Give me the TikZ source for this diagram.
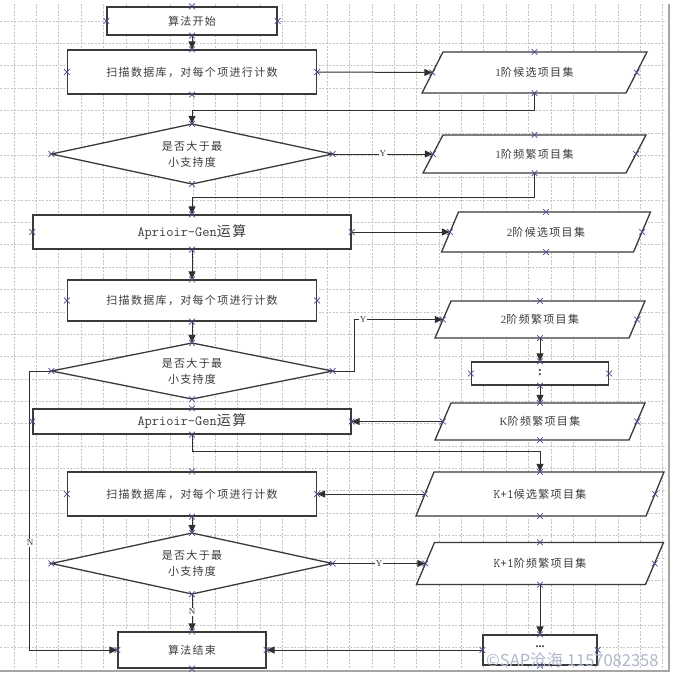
\documentclass[tikz,border=0pt]{standalone}
\usepackage{fontspec}
\setmainfont{Liberation Serif}
\newfontfamily\cjk[LetterSpace=12]{Noto Sans CJK SC}
\newfontfamily\cjkw{Noto Sans CJK SC}
\usetikzlibrary{arrows.meta,shapes.misc,calc}
\definecolor{boxc}{HTML}{3A3A3A}
\definecolor{linec}{HTML}{303030}
\definecolor{markc}{HTML}{4B4B8F}
\definecolor{gridc}{HTML}{C4C4C4}
\definecolor{txtc}{HTML}{3C3C3C}
\definecolor{wmc}{HTML}{AEB8CA}
\newcommand{\latn}[1]{{\rmfamily #1}}
\newcommand{\mn}[1]{{\ttfamily #1}}
\newcommand{\kmn}[1]{{\ttfamily\fontsize{13}{16}\selectfont #1}}
\tikzset{
  shapeline/.style={draw=boxc, line width=1.3pt, fill=white},
  rbox/.style={shapeline, inner sep=0pt, text=txtc, font=\cjk\fontsize{11}{16}\selectfont},
  tnode/.style={inner sep=0pt, text=txtc, align=center, font=\cjk\fontsize{11}{16}\selectfont},
  arr/.style={draw=linec, line width=1pt, -{Triangle[length=8pt,width=7pt]}},
  lbl/.style={fill=white, inner sep=1pt, text=txtc, font=\rmfamily\fontsize{9}{10}\selectfont},
  xmk/.style={cross out, draw=markc, line width=0.7pt, minimum size=5pt, inner sep=0pt},
  gridl/.style={draw=gridc, line width=0.6pt, dash pattern=on 2pt off 1.5pt},
}
% parallelogram: name, centre, width, height, slant, text
\newcommand{\pgm}[6]{%
  \path[shapeline] ($(#2)+(-#3/2+#5,#4/2)$) -- ($(#2)+(#3/2+#5,#4/2)$) --
    ($(#2)+(#3/2-#5,-#4/2)$) -- ($(#2)+(-#3/2-#5,-#4/2)$) -- cycle;
  \node[tnode, minimum width=#3pt, minimum height=#4pt] (#1) at (#2) {#6};}
% diamond: name, centre, width, height, text
\newcommand{\dmd}[5]{%
  \path[shapeline] ($(#2)+(0,#4/2)$) -- ($(#2)+(#3/2,0)$) --
    ($(#2)+(0,-#4/2)$) -- ($(#2)+(-#3/2,0)$) -- cycle;
  \node[tnode, minimum width=#3pt, minimum height=#4pt] (#1) at (#2) {#5};}
\newcommand{\cpmarks}[1]{\foreach \a in {north,south,east,west} {\node[xmk] at (#1.\a) {};}}
\begin{document}
\begin{tikzpicture}[x=1pt,y=1pt]
\useasboundingbox (0,0) rectangle (674,-674);
\fill[white] (0,0) rectangle (674,-674);
% grid
\foreach \i in {0,...,29} {\draw[gridl] ({14+22.37*\i},-4) -- ({14+22.37*\i},-668);}
\foreach \j in {0,...,28} {\draw[gridl] (0,{-21-22.37*\j}) -- (666,{-21-22.37*\j});}
\draw[gray!70, line width=1.5pt] (669,-4) -- (669,-671) -- (0,-671);
% left column
\node[rbox, minimum width=170pt, minimum height=28pt] (start) at (192,-21) {算法开始};
\node[rbox, minimum width=249pt, minimum height=44pt] (scan1) at (192,-72) {扫描数据库，对每个项进行计数};
\dmd{dia1}{192,-154}{281}{60}{是否大于最\\小支持度}
\node[rbox, minimum width=318pt, minimum height=34pt, font=\cjk\fontsize{14}{15}\selectfont] (apr1) at (192,-232) {\mn{Aprioir-Gen}运算};
\node[rbox, minimum width=249pt, minimum height=41pt] (scan2) at (192,-300.5) {扫描数据库，对每个项进行计数};
\dmd{dia2}{192,-371}{281}{56}{是否大于最\\小支持度}
\node[rbox, minimum width=318pt, minimum height=25pt, font=\cjk\fontsize{14}{15}\selectfont] (apr2) at (192,-421.5) {\mn{Aprioir-Gen}运算};
\node[rbox, minimum width=249pt, minimum height=44pt] (scan3) at (192,-494) {扫描数据库，对每个项进行计数};
\dmd{dia3}{192,-563.5}{281}{61}{是否大于最\\小支持度}
\node[rbox, minimum width=148pt, minimum height=36pt] (end) at (192,-650) {算法结束};
% right column
\pgm{p1}{534.5,-72.5}{204}{41}{10.5}{\latn{1}阶候选项目集}
\pgm{p2}{534.5,-154}{203}{38}{10}{\latn{1}阶频繁项目集}
\pgm{p3}{546,-232}{192}{40}{8.5}{\latn{2}阶候选项目集}
\pgm{p4}{540,-319.5}{194}{37}{8}{\latn{2}阶频繁项目集}
\node[rbox, minimum width=137pt, minimum height=23pt] (r1) at (540,-373.5) {\raisebox{2pt}{\rmfamily\bfseries\fontsize{13}{13}\selectfont :}};
\pgm{p5}{540,-421.5}{194}{37}{8}{\latn{K}阶频繁项目集}
\pgm{p6}{540,-494}{230}{44}{9}{\kmn{K+1}候选繁项目集}
\pgm{p7}{540,-563.5}{229}{42}{9}{\kmn{K+1}阶频繁项目集}
\node[rbox, minimum width=114pt, minimum height=30pt] (r2) at (540,-650) {\raisebox{7pt}{\rmfamily\bfseries\fontsize{12}{12}\selectfont ...}};
% connectors
\draw[arr] (start.south) -- (scan1.north);
\draw[arr] (scan1.east) -- (p1.west);
\draw[arr] (p1.south) -- ++(0,-17) -| (dia1.north);
\draw[arr] (dia1.east) -- (p2.west);
\node[lbl] (y1) at ($(dia1.east)!0.5!(p2.west)$) {Y};
\draw[arr] (p2.south) -- ++(0,-24) -| (apr1.north);
\draw[arr] (apr1.east) -- (p3.west);
\draw[arr] (apr1.south) -- (scan2.north);
\draw[arr] (scan2.south) -- (dia2.north);
\draw[arr] (dia2.east) -- ++(22,0) |- (p4.west);
\node[lbl] (y2) at (363,-319.5) {Y};
\draw[arr] (dia2.west) -- ++(-22,0) |- (end.west);
\node[lbl] (n1) at (30,-543) {N};
\draw[arr] (p4.south) -- (r1.north);
\draw[arr] (r1.south) -- (p5.north);
\draw[arr] (p5.west) -- (apr2.east);
\draw[arr] (apr2.south) -- ++(0,-17) -| (p6.north);
\draw[arr] (p6.west) -- (scan3.east);
\draw[arr] (scan3.south) -- (dia3.north);
\draw[arr] (dia3.east) -- (p7.west);
\node[lbl] (y3) at ($(dia3.east)!0.5!(p7.west)$) {Y};
\draw[arr] (dia3.south) -- (end.north);
\node[lbl] (n2) at ($(dia3.south)!0.48!(end.north)$) {N};
\draw[arr] (p7.south) -- (r2.north);
\draw[arr] (r2.west) -- (end.east);
% connection markers
\foreach \n in {start,scan1,dia1,apr1,scan2,dia2,apr2,scan3,dia3,end,p1,p2,p3,p4,r1,p5,p6,p7,r2} {\cpmarks{\n}}
% watermark
\node[anchor=west, inner sep=0pt, text=wmc, font=\cjkw\fontsize{16.5}{17}\selectfont] (wm) at (486,-660) {©SAP沧海 1157082358};
\end{tikzpicture}
\end{document}
